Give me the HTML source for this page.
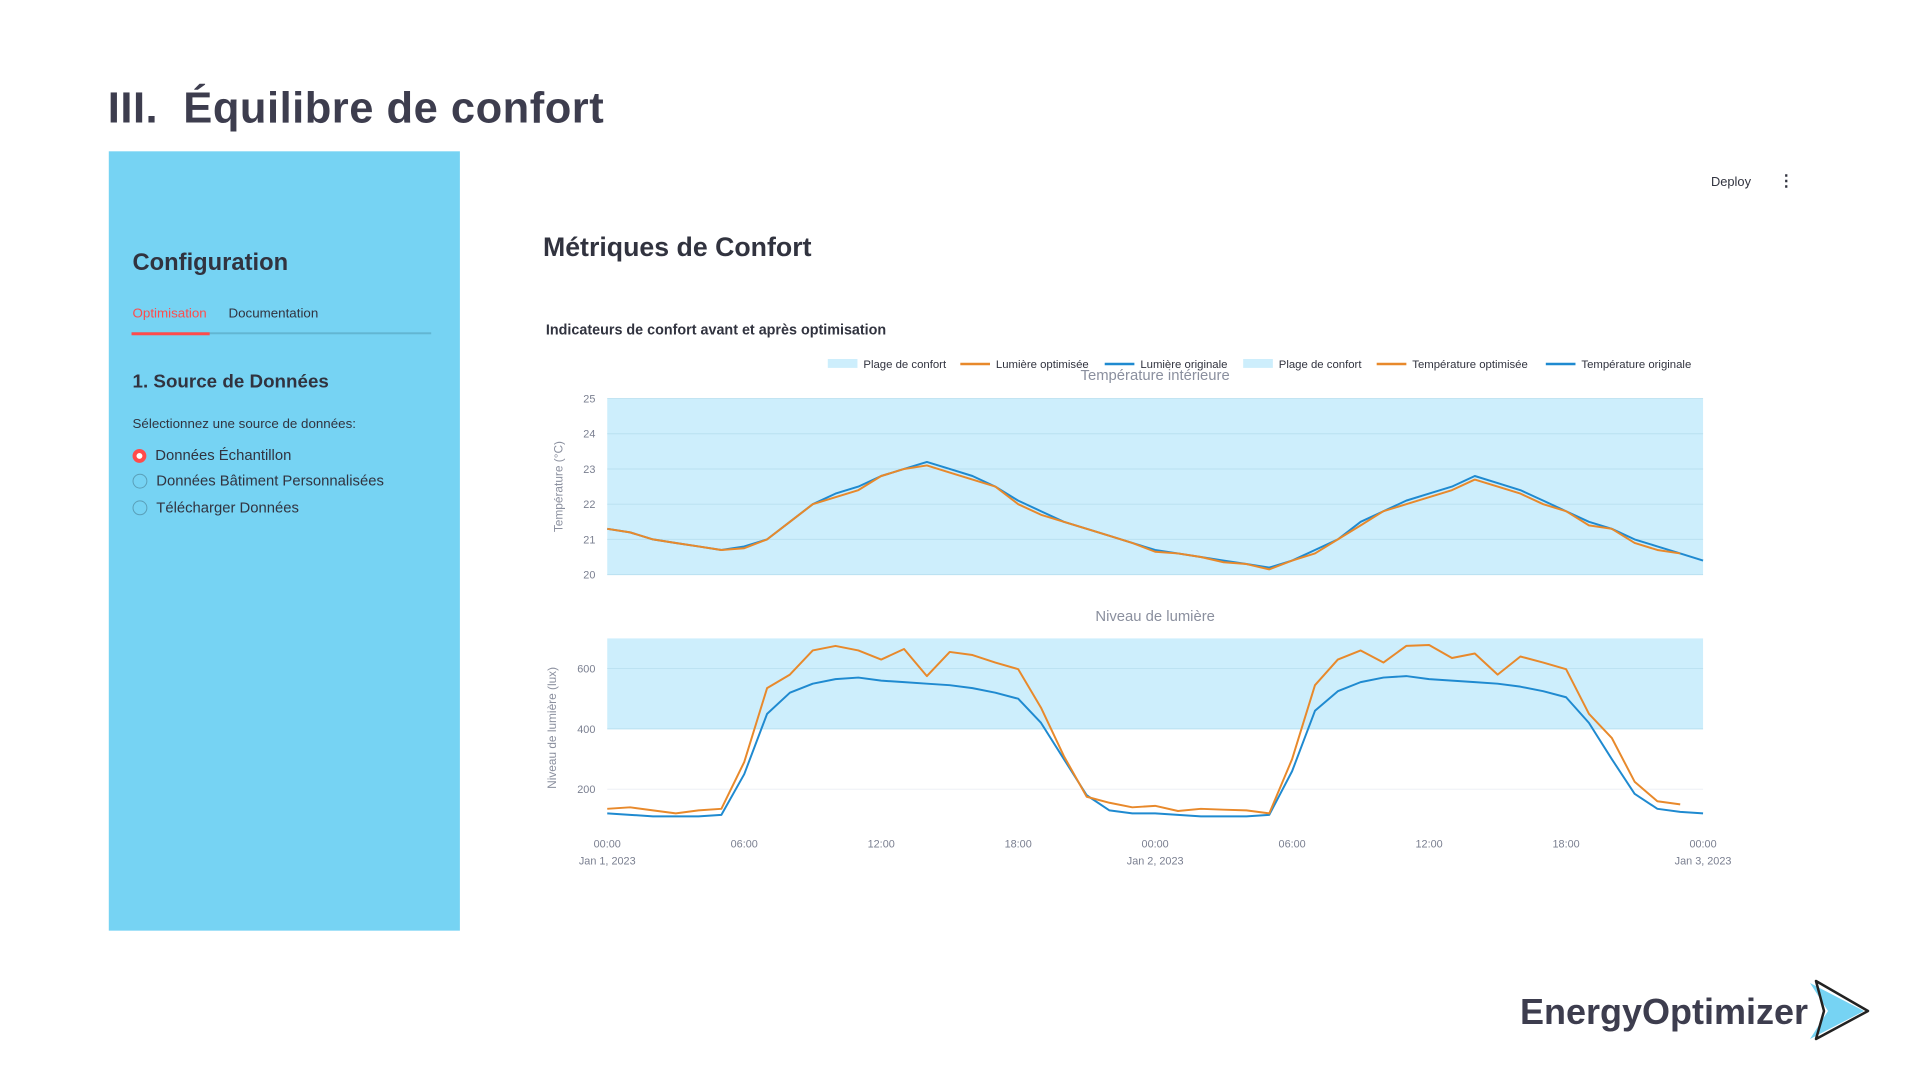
<!DOCTYPE html>
<html><head><meta charset="utf-8">
<style>
body{margin:0;width:1920px;height:1080px;background:#fff;position:relative;overflow:hidden;font-family:"Liberation Sans",sans-serif;color:#31333f}
.abs{position:absolute;white-space:nowrap}
#wrap{position:absolute;left:0;top:0;width:1920px;height:1080px;transform:scale(0.989);transform-origin:0 0}
</style></head><body>
<div id="wrap">
<div class="abs" style="left:109px;top:85px;font-size:44px;font-weight:bold;color:#3d3d4e;letter-spacing:0.5px">III.&nbsp; Équilibre de confort</div>
<div class="abs" style="left:110px;top:153px;width:355px;height:788px;background:#76d3f3"></div>
<div class="abs" style="left:134px;top:252px;font-size:24px;font-weight:bold;color:#31333f">Configuration</div>
<div class="abs" style="left:134px;top:309px;font-size:13.5px;color:#ff4b4b">Optimisation</div>
<div class="abs" style="left:231px;top:309px;font-size:13.5px;color:#31333f">Documentation</div>
<div class="abs" style="left:133px;top:336px;width:303px;height:2px;background:#62b6d2"></div>
<div class="abs" style="left:133px;top:336px;width:79px;height:3px;background:#ff4b4b"></div>
<div class="abs" style="left:134px;top:376px;font-size:19px;font-weight:bold">1. Source de Données</div>
<div class="abs" style="left:134px;top:421px;font-size:13.5px">Sélectionnez une source de données:</div>
<div class="abs" style="left:134px;top:452px;font-size:15px"><span style="display:inline-block;border:4px solid #ff4b4b;border-radius:50%;background:#fff;vertical-align:-3px;margin-right:9px;box-sizing:content-box;width:6px;height:6px"></span>Données Échantillon</div>
<div class="abs" style="left:134px;top:478px;font-size:15px"><span style="display:inline-block;width:13px;height:13px;border:1.5px solid #5a9fb8;border-radius:50%;vertical-align:-3px;margin-right:9px"></span>Données Bâtiment Personnalisées</div>
<div class="abs" style="left:134px;top:505px;font-size:15px"><span style="display:inline-block;width:13px;height:13px;border:1.5px solid #5a9fb8;border-radius:50%;vertical-align:-3px;margin-right:9px"></span>Télécharger Données</div>
<div class="abs" style="left:1730px;top:176px;font-size:13px">Deploy</div>
<div class="abs" style="left:1798px;top:173px;font-size:16px;font-weight:bold">⋮</div>
<div class="abs" style="left:549px;top:235px;font-size:27px;font-weight:bold">Métriques de Confort</div>
<div class="abs" style="left:552px;top:326px;font-size:14.5px;font-weight:bold">Indicateurs de confort avant et après optimisation</div>

<svg class="abs" style="left:0;top:0" width="1920" height="1080" id="chart" font-family="Liberation Sans, sans-serif"></svg>
</div>

<div class="abs" style="left:1520px;top:991px;font-size:36px;font-weight:bold;color:#3d3d4e">EnergyOptimizer</div>
<svg class="abs" style="left:1806px;top:979px" width="64" height="62">
<polygon points="4,4 58,32 4,60 22,32" fill="#76d3f3"/>
<polygon points="10,2 62,32 10,60 18,32" fill="none" stroke="#222" stroke-width="2.5" stroke-linejoin="round"/>
</svg>

<script>
const hours=[];for(let i=0;i<=48;i++)hours.push(i);
const tempOrig=[21.3,21.2,21.0,20.9,20.8,20.7,20.8,21.0,21.5,22.0,22.3,22.5,22.8,23.0,23.2,23.0,22.8,22.5,22.1,21.8,21.5,21.3,21.1,20.9,20.7,20.6,20.5,20.4,20.3,20.2,20.4,20.7,21.0,21.5,21.8,22.1,22.3,22.5,22.8,22.6,22.4,22.1,21.8,21.5,21.3,21.0,20.8,20.6,20.4];
const tempOpt=[21.3,21.2,21.0,20.9,20.8,20.7,20.75,21.0,21.5,22.0,22.2,22.4,22.8,23.0,23.1,22.9,22.7,22.5,22.0,21.7,21.5,21.3,21.1,20.9,20.65,20.6,20.5,20.35,20.3,20.15,20.4,20.6,21.0,21.4,21.8,22.0,22.2,22.4,22.7,22.5,22.3,22.0,21.8,21.4,21.3,20.9,20.7,20.6];
const lightOrig=[120,115,110,110,110,115,250,450,520,550,565,570,560,555,550,545,535,520,500,420,300,180,130,120,120,115,110,110,110,115,260,460,525,555,570,575,565,560,555,550,540,525,505,420,300,185,135,125,120];
const lightOpt=[135,140,130,120,130,135,290,535,580,660,675,660,630,665,575,655,645,620,598,470,310,175,155,140,145,128,135,132,130,120,300,545,630,660,620,675,678,635,650,580,640,620,598,450,370,225,160,150];
const tempTicks=[20,21,22,23,24,25];
const lightTicks=[200,400,600];
const xTickLabels=["00:00","06:00","12:00","18:00","00:00","06:00","12:00","18:00","00:00"];
const xTickHours=[0,6,12,18,24,30,36,42,48];
const dateLabels=["Jan 1, 2023","Jan 2, 2023","Jan 3, 2023"];
const tempComfort=[20,25];
const lightComfort=[400,700];

const svg=document.getElementById('chart');
const NS='http://www.w3.org/2000/svg';
function mk(tag,attrs,parent){const e=document.createElementNS(NS,tag);for(const k in attrs)e.setAttribute(k,attrs[k]);(parent||svg).appendChild(e);return e;}
const L=614,R=1722;
const x=h=>L+(h/48)*(R-L);
const yT=v=>581-(v-20)/5*178;
const yL=v=>798-(v-200)/200*61;

let band=mk('rect',{x:L,y:yT(tempComfort[1]),width:R-L,height:yT(tempComfort[0])-yT(tempComfort[1]),fill:'#cdeefc'});

tempTicks.forEach(t=>{
  const g=mk('line',{x1:L,x2:R,y1:yT(t),y2:yT(t),stroke:'#b9e0f0','stroke-width':1});
  
  const tx=mk('text',{x:L-12,y:yT(t)+4,'font-size':11,fill:'#7a7f90','text-anchor':'end'});tx.textContent=t;
  
});
band=mk('rect',{x:L,y:yL(lightComfort[1]),width:R-L,height:yL(lightComfort[0])-yL(lightComfort[1]),fill:'#cdeefc'});

lightTicks.forEach(t=>{
  const g=mk('line',{x1:L,x2:R,y1:yL(t),y2:yL(t),stroke:t>=400?'#b9e0f0':'#eef0f5','stroke-width':1});
  
  const tx=mk('text',{x:L-12,y:yL(t)+4,'font-size':11,fill:'#7a7f90','text-anchor':'end'});tx.textContent=t;
  
});
function line(arr,yf,color,name){
  const d=arr.map((v,i)=>(i?'L':'M')+x(hours[i]).toFixed(1)+','+yf(v).toFixed(1)).join(' ');
  const p=mk('path',{d:d,fill:'none',stroke:color,'stroke-width':2,'stroke-linejoin':'round'});
  
}
line(tempOrig,yT,'#1f8ad0','temp-original-line');
line(tempOpt,yT,'#e8892b','temp-optimized-line');
line(lightOrig,yL,'#1f8ad0','light-original-line');
line(lightOpt,yL,'#e8892b','light-optimized-line');
xTickLabels.forEach((lab,i)=>{
  const tx=mk('text',{x:x(xTickHours[i]),y:857,'font-size':11,fill:'#7a7f90','text-anchor':'middle'});tx.textContent=lab;
  
});
dateLabels.forEach((lab,i)=>{
  const tx=mk('text',{x:x(i*24),y:874,'font-size':11,fill:'#7a7f90','text-anchor':'middle'});tx.textContent=lab;
  
});
let t=mk('text',{x:1168,y:384,'font-size':15,fill:'#8a8f9e','text-anchor':'middle'});t.textContent='Température intérieure';

t=mk('text',{x:1168,y:628,'font-size':15,fill:'#8a8f9e','text-anchor':'middle'});t.textContent='Niveau de lumière';

t=mk('text',{x:0,y:0,'font-size':12,fill:'#8a8f9e','text-anchor':'middle',transform:'translate(569,492) rotate(-90)'});t.textContent='Température (°C)';

t=mk('text',{x:0,y:0,'font-size':12,fill:'#8a8f9e','text-anchor':'middle',transform:'translate(562,736) rotate(-90)'});t.textContent='Niveau de lumière (lux)';

const legLabels=['Plage de confort','Lumière optimisée','Lumière originale','Plage de confort','Température optimisée','Température originale'];
const legX=[837,971,1117,1257,1392,1563];
const legType=['band','#e8892b','#1f8ad0','band','#e8892b','#1f8ad0'];
legLabels.forEach((lab,i)=>{
  let s;
  if(legType[i]==='band')s=mk('rect',{x:legX[i],y:363,width:30,height:9,fill:'#cdeefc'});
  else s=mk('line',{x1:legX[i],x2:legX[i]+30,y1:368,y2:368,stroke:legType[i],'stroke-width':2.5});
  
  const tx=mk('text',{x:legX[i]+36,y:372,'font-size':11.5,fill:'#31333f'});tx.textContent=lab;
  
});
</script>
</body></html>
